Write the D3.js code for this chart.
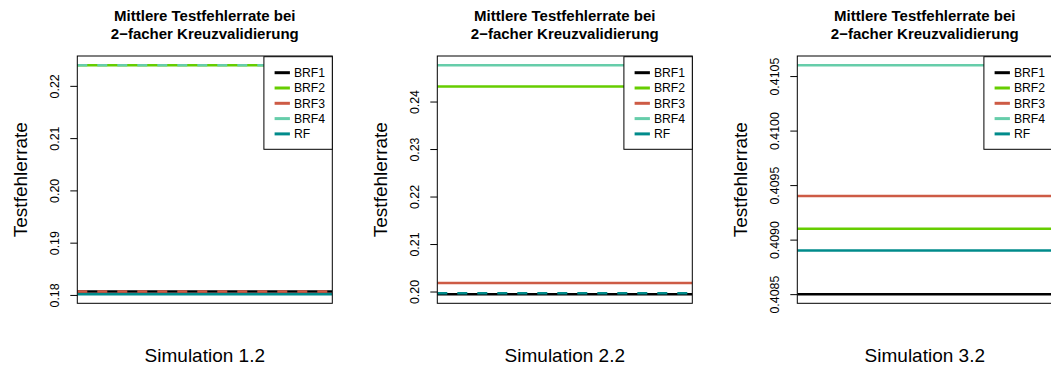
<!DOCTYPE html>
<html>
<head>
<meta charset="utf-8">
<script src="https://cdn.jsdelivr.net/npm/d3@7"></script>
<style>
  html, body { margin: 0; padding: 0; background: #fff; }
  svg { display: block; font-family: "Liberation Sans", Arial, Helvetica, sans-serif; }
</style>
</head>
<body>
<svg id="chart" width="1051" height="370"></svg>
<script>
// Series shown in every panel (draw order)
const seriesNames = ["BRF1", "BRF2", "BRF3", "BRF4", "RF"];

// Mean test error rates, one array per simulation
const sim12 = [0.18067, 0.22396, 0.18067, 0.22396, 0.18015];
const sim22 = [0.19945, 0.24316, 0.20177, 0.24766, 0.19966];
const sim32 = [0.40850, 0.40910, 0.40940, 0.41060, 0.40890];

// Panel labels
const titleLines = ["Mittlere Testfehlerrate bei", "2\u2212facher Kreuzvalidierung"];
const simLabels = ["Simulation 1.2", "Simulation 2.2", "Simulation 3.2"];
const yLabel = "Testfehlerrate";

// Y-axis tick labels per panel
const ticks12 = ["0.18", "0.19", "0.20", "0.21", "0.22"];
const ticks22 = ["0.20", "0.21", "0.22", "0.23", "0.24"];
const ticks32 = ["0.4085", "0.4090", "0.4095", "0.4100", "0.4105"];

const panels = [
  { values: sim12, ticks: ticks12, label: simLabels[0] },
  { values: sim22, ticks: ticks22, label: simLabels[1] },
  { values: sim32, ticks: ticks32, label: simLabels[2] }
];

const palette = d3.scaleOrdinal()
  .domain(seriesNames)
  .range(["#000000", "#66CD00", "#CD5B45", "#66CDAA", "#008B8B"]);

// Layout
const plotW = 255, plotTop = 56, plotBottom = 303.3;
const panelStep = 360, firstLeft = 77.3;
const lineW = 2.5;

const svg = d3.select("#chart");

panels.forEach((p, i) => {
  const left = firstLeft + i * panelStep;
  const right = left + plotW;
  const cx = (left + right) / 2;

  // R-style 4% padding of the data range
  const [lo, hi] = d3.extent(p.values);
  const pad = (hi - lo) * 0.04;
  const y = d3.scaleLinear().domain([lo - pad, hi + pad]).range([plotBottom, plotTop]);
  const x = d3.scaleLinear().domain([0, 1]).range([left, right]);

  const g = svg.append("g");

  // Clip marks to the plotting region
  const clipId = "clip" + i;
  svg.append("clipPath").attr("id", clipId)
    .append("rect").attr("x", left).attr("y", plotTop)
    .attr("width", plotW).attr("height", plotBottom - plotTop);

  // Horizontal lines, one per series; a line lying on top of an earlier one is dashed
  const line = d3.line().x(d => x(d[0])).y(d => y(d[1]));
  const lines = g.append("g").attr("clip-path", `url(#${clipId})`);
  p.values.forEach((v, k) => {
    const overlaps = p.values.slice(0, k).some(u => Math.abs(y(u) - y(v)) < 2);
    lines.append("path")
      .attr("d", line([[0, v], [1, v]]))
      .attr("fill", "none")
      .attr("stroke", palette(seriesNames[k]))
      .attr("stroke-width", lineW)
      .attr("stroke-dasharray", overlaps ? "10,10" : null);
  });

  // Y axis with rotated tick labels
  const axis = d3.axisLeft(y)
    .tickValues(p.ticks.map(Number))
    .tickFormat((d, j) => p.ticks[j])
    .tickSize(7)
    .tickPadding(0);
  const ax = g.append("g").attr("transform", `translate(${left},0)`).call(axis);
  ax.select(".domain").remove();
  ax.selectAll(".tick line").attr("stroke", "#000");
  ax.selectAll(".tick text")
    .attr("x", null).attr("dy", null)
    .attr("transform", "translate(-18,0) rotate(-90)")
    .attr("text-anchor", "middle")
    .attr("fill", "#000")
    .style("font-size", "12.4px")
    .style("font-family", "'Liberation Sans', Arial, Helvetica, sans-serif");

  // Plot frame
  g.append("rect")
    .attr("x", left).attr("y", plotTop)
    .attr("width", plotW).attr("height", plotBottom - plotTop)
    .attr("fill", "none").attr("stroke", "#000").attr("stroke-width", 1);

  // Legend in the top-right corner
  const lgW = 68.4, lgH = 92.6, rowH = 15.3;
  const lg = g.append("g").attr("transform", `translate(${right - lgW},${plotTop + 0.7})`);
  lg.append("rect").attr("width", lgW).attr("height", lgH)
    .attr("fill", "#fff").attr("stroke", "#000").attr("stroke-width", 1);
  seriesNames.forEach((s, k) => {
    const ry = 16 + k * rowH;
    lg.append("line")
      .attr("x1", 10.7).attr("x2", 26)
      .attr("y1", ry).attr("y2", ry)
      .attr("stroke", palette(s)).attr("stroke-width", 3);
    lg.append("text")
      .attr("x", 30).attr("y", ry + 4.3)
      .style("font-size", "12.2px")
      .text(s);
  });

  // Title
  titleLines.forEach((t, k) => {
    svg.append("text")
      .attr("x", cx).attr("y", 21 + k * 18.3)
      .attr("text-anchor", "middle")
      .style("font-size", "15px").style("font-weight", "bold")
      .text(t);
  });

  // X label
  svg.append("text")
    .attr("x", cx).attr("y", 362.3)
    .attr("text-anchor", "middle")
    .style("font-size", "19px")
    .text(p.label);

  // Y label
  svg.append("text")
    .attr("transform", `translate(${left - 50},${(plotTop + plotBottom) / 2}) rotate(-90)`)
    .attr("text-anchor", "middle")
    .style("font-size", "19px")
    .text(yLabel);
});
</script>
</body>
</html>
